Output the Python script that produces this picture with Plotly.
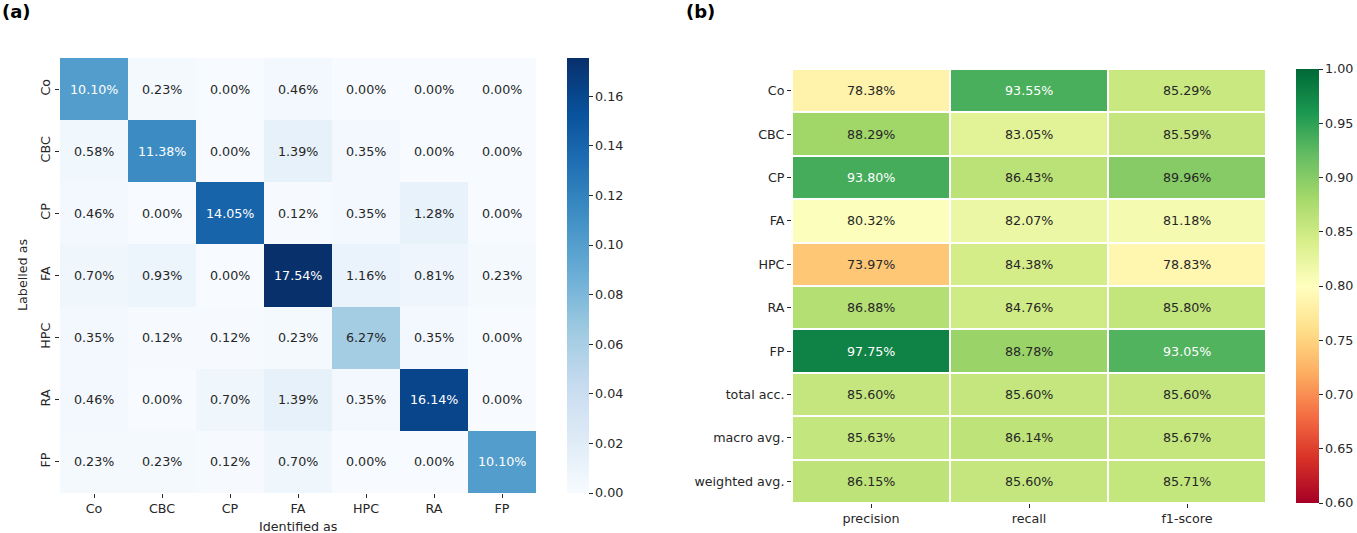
import plotly.graph_objects as go
import plotly.colors as pc

W, H = 1357, 533

# ---------------- data ----------------
classes = ["Co", "CBC", "CP", "FA", "HPC", "RA", "FP"]
cm_Co = [0.1010, 0.0023, 0.0000, 0.0046, 0.0000, 0.0000, 0.0000]
cm_CBC = [0.0058, 0.1138, 0.0000, 0.0139, 0.0035, 0.0000, 0.0000]
cm_CP = [0.0046, 0.0000, 0.1405, 0.0012, 0.0035, 0.0128, 0.0000]
cm_FA = [0.0070, 0.0093, 0.0000, 0.1754, 0.0116, 0.0081, 0.0023]
cm_HPC = [0.0035, 0.0012, 0.0012, 0.0023, 0.0627, 0.0035, 0.0000]
cm_RA = [0.0046, 0.0000, 0.0070, 0.0139, 0.0035, 0.1614, 0.0000]
cm_FP = [0.0023, 0.0023, 0.0012, 0.0070, 0.0000, 0.0000, 0.1010]
cm = [cm_Co, cm_CBC, cm_CP, cm_FA, cm_HPC, cm_RA, cm_FP]

report_rows = ["Co", "CBC", "CP", "FA", "HPC", "RA", "FP",
               "total acc.", "macro avg.", "weighted avg."]
report_cols = ["precision", "recall", "f1-score"]
precision = [0.7838, 0.8829, 0.9380, 0.8032, 0.7397, 0.8688, 0.9775, 0.8560, 0.8563, 0.8615]
recall = [0.9355, 0.8305, 0.8643, 0.8207, 0.8438, 0.8476, 0.8878, 0.8560, 0.8614, 0.8560]
f1 = [0.8529, 0.8559, 0.8996, 0.8118, 0.7883, 0.8580, 0.9305, 0.8560, 0.8567, 0.8571]

cm_ticks = [0.00, 0.02, 0.04, 0.06, 0.08, 0.10, 0.12, 0.14, 0.16]
rep_ticks = [0.60, 0.65, 0.70, 0.75, 0.80, 0.85, 0.90, 0.95, 1.00]

# ---------------- style ----------------
FONT = "DejaVu Sans"
FS = 12.7
DARK = "#262626"


def scale(colors):
    n = len(colors)
    return [[i / (n - 1), c] for i, c in enumerate(colors)]


blues = scale(pc.sequential.Blues)
rdylgn = scale(pc.diverging.RdYlGn)


def lum_of(cs, t):
    c = pc.sample_colorscale(cs, [min(max(t, 0), 1)])[0]
    r, g, b = [float(v) / 255 for v in c[c.index("(") + 1:-1].split(",")]
    def lin(v):
        return v / 12.92 if v <= 0.03928 else ((v + 0.055) / 1.055) ** 2.4
    return 0.2126 * lin(r) + 0.7152 * lin(g) + 0.0722 * lin(b)


def px_x(p):
    return p / W


def px_y(p):
    return 1 - p / H


fig = go.Figure()

cm_min, cm_max = 0.0, max(max(r) for r in cm)
rep_z = [[precision[i], recall[i], f1[i]] for i in range(len(report_rows))]

fig.add_trace(go.Heatmap(
    z=cm, x=classes, y=classes, xaxis="x", yaxis="y",
    colorscale=blues, zmin=cm_min, zmax=cm_max, hoverinfo="skip",
    colorbar=dict(
        x=px_x(567), xanchor="left", y=px_y(493), yanchor="bottom",
        len=(493 - 58) / H, lenmode="fraction", thickness=22, thicknessmode="pixels",
        xpad=0, ypad=0, outlinewidth=0, tickvals=cm_ticks, tickformat=".2f",
        ticks="outside", ticklen=4, tickcolor=DARK, tickwidth=1,
        tickfont=dict(family=FONT, size=FS, color=DARK)),
))

fig.add_trace(go.Heatmap(
    z=rep_z, x=report_cols, y=report_rows, xaxis="x2", yaxis="y2",
    colorscale=rdylgn, zmin=0.6, zmax=1.0, xgap=2, ygap=2, hoverinfo="skip",
    colorbar=dict(
        x=px_x(1296), xanchor="left", y=px_y(503), yanchor="bottom",
        len=(503 - 69) / H, lenmode="fraction", thickness=23, thicknessmode="pixels",
        xpad=0, ypad=0, outlinewidth=0, tickvals=rep_ticks, tickformat=".2f",
        ticks="outside", ticklen=4, tickcolor=DARK, tickwidth=1,
        tickfont=dict(family=FONT, size=FS, color=DARK)),
))

annotations = []
for i, row in enumerate(classes):
    for j, col in enumerate(classes):
        v = cm[i][j]
        t = (v - cm_min) / (cm_max - cm_min)
        color = DARK if lum_of(blues, t) > 0.408 else "white"
        annotations.append(dict(x=col, y=row, xref="x", yref="y", text=f"{v*100:.2f}%",
                                showarrow=False, font=dict(family=FONT, size=FS, color=color)))
for i, row in enumerate(report_rows):
    for j, col in enumerate(report_cols):
        v = rep_z[i][j]
        t = (v - 0.6) / 0.4
        color = DARK if lum_of(rdylgn, t) > 0.408 else "white"
        annotations.append(dict(x=col, y=row, xref="x2", yref="y2", text=f"{v*100:.2f}%",
                                showarrow=False, font=dict(family=FONT, size=FS, color=color)))

annotations += [
    dict(x=0, y=px_y(12), xref="paper", yref="paper", xanchor="left", yanchor="middle",
         text="<b>(a)</b>", showarrow=False, font=dict(family=FONT, size=18, color="black")),
    dict(x=px_x(684), y=px_y(12), xref="paper", yref="paper", xanchor="left", yanchor="middle",
         text="<b>(b)</b>", showarrow=False, font=dict(family=FONT, size=18, color="black")),
    dict(x=px_x(298), y=px_y(526), xref="paper", yref="paper", xanchor="center", yanchor="middle",
         text="Identified as", showarrow=False, font=dict(family=FONT, size=FS, color=DARK)),
    dict(x=px_x(22), y=px_y(275), xref="paper", yref="paper", xanchor="center", yanchor="middle",
         text="Labelled as", textangle=-90, showarrow=False,
         font=dict(family=FONT, size=FS, color=DARK)),
]

axis_common = dict(showgrid=False, zeroline=False, showline=False, ticks="outside",
                   ticklen=4, tickwidth=1, tickcolor=DARK,
                   tickfont=dict(family=FONT, size=FS, color=DARK))

fig.update_layout(
    width=W, height=H, margin=dict(l=0, r=0, t=0, b=0),
    paper_bgcolor="white", plot_bgcolor="white",
    font=dict(family=FONT, size=FS, color=DARK),
    xaxis=dict(domain=[px_x(60), px_x(536)], anchor="y", **axis_common),
    yaxis=dict(domain=[px_y(493), px_y(58)], anchor="x", autorange="reversed",
               tickangle=-90, **axis_common),
    xaxis2=dict(domain=[px_x(792), px_x(1266)], anchor="y2", **axis_common),
    yaxis2=dict(domain=[px_y(503), px_y(69)], anchor="x2", autorange="reversed",
                **axis_common),
    annotations=annotations,
)

fig.write_html(
    "out.html",
    config={"displayModeBar": False},
    post_script="document.body.style.margin='0';document.body.style.overflow='hidden';",
)
